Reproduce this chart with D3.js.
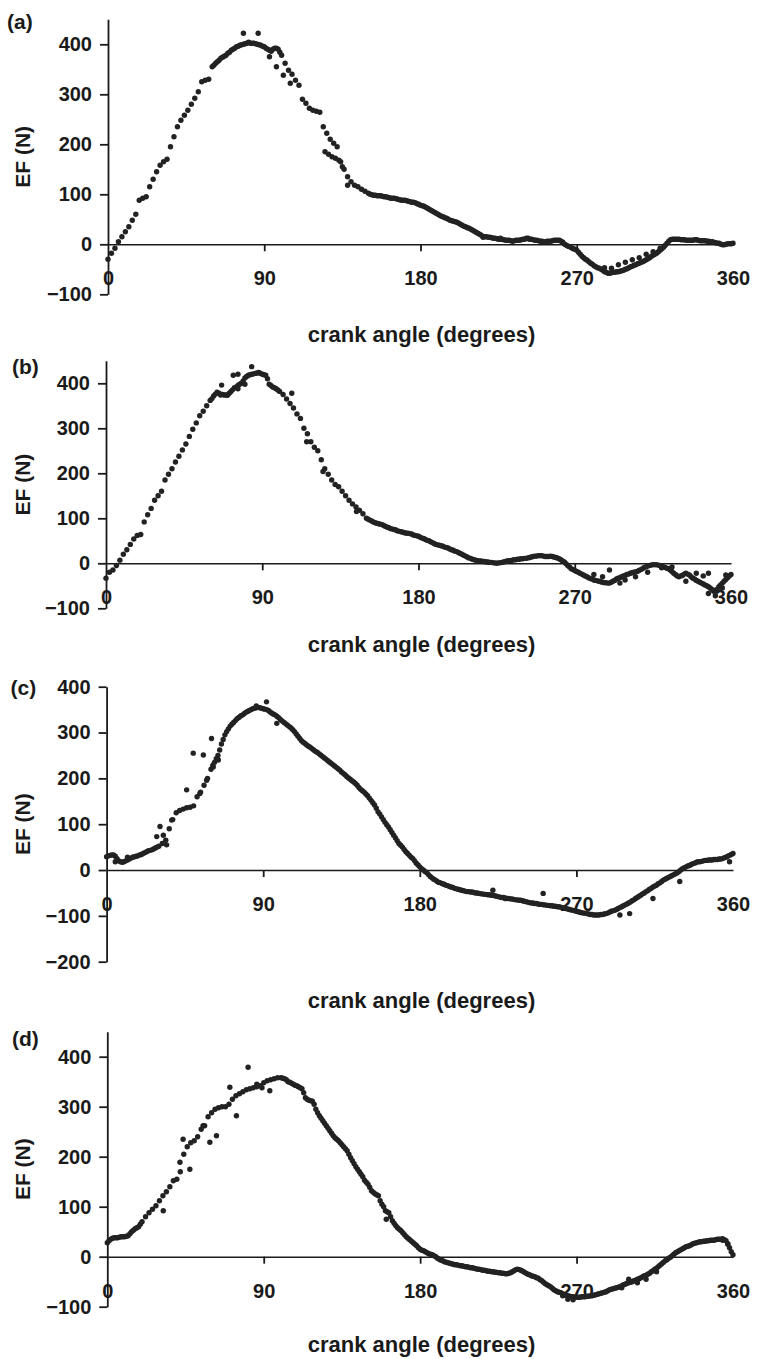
<!DOCTYPE html>
<html>
<head>
<meta charset="utf-8">
<script src="https://cdn.jsdelivr.net/npm/d3@7"></script>
<style>
  html, body { margin: 0; padding: 0; background: #ffffff; }
  svg { display: block; }
  text { font-family: "Liberation Sans", Arial, Helvetica, sans-serif; font-weight: bold; fill: #1a1a1a; }
</style>
</head>
<body>
<svg id="chart" width="758" height="1359"></svg>
<script>
// ---------------- DATA ----------------
// crank angles of the even-degree samples
const angles = [
  0,2,4,6,8,10,12,14,16,18, 20,22,24,26,28,30,32,34,36,38,
  40,42,44,46,48,50,52,54,56,58, 60,62,64,66,68,70,72,74,76,78,
  80,82,84,86,88,90,92,94,96,98, 100,102,104,106,108,110,112,114,116,118,
  120,122,124,126,128,130,132,134,136,138, 140,142,144,146,148,150,152,154,156,158,
  160,162,164,166,168,170,172,174,176,178, 180,182,184,186,188,190,192,194,196,198,
  200,202,204,206,208,210,212,214,216,218, 220,222,224,226,228,230,232,234,236,238,
  240,242,244,246,248,250,252,254,256,258, 260,262,264,266,268,270,272,274,276,278,
  280,282,284,286,288,290,292,294,296,298, 300,302,304,306,308,310,312,314,316,318,
  320,322,324,326,328,330,332,334,336,338, 340,342,344,346,348,350,352,354,356,358,
  360
];
// crank angles of the odd-degree samples
const oddAngles = [
  1,3,5,7,9,11,13,15,17,19, 21,23,25,27,29,31,33,35,37,39,
  41,43,45,47,49,51,53,55,57,59, 61,63,65,67,69,71,73,75,77,79,
  81,83,85,87,89,91,93,95,97,99, 101,103,105,107,109,111,113,115,117,119,
  121,123,125,127,129,131,133,135,137,139, 141,143,145,147,149,151,153,155,157,159,
  161,163,165,167,169,171,173,175,177,179, 181,183,185,187,189,191,193,195,197,199,
  201,203,205,207,209,211,213,215,217,219, 221,223,225,227,229,231,233,235,237,239,
  241,243,245,247,249,251,253,255,257,259, 261,263,265,267,269,271,273,275,277,279,
  281,283,285,287,289,291,293,295,297,299, 301,303,305,307,309,311,313,315,317,319,
  321,323,325,327,329,331,333,335,337,339, 341,343,345,347,349,351,353,355,357,359
];

const efA = [
  -30,-18,-8,5,15,25,35,48,60,88,
  92,95,115,130,145,158,165,170,195,215,
  235,248,258,268,280,292,305,325,328,330,
  355,362,368,374,378,384,390,395,398,400,
  402,402,402,400,398,395,390,386,392,390,
  378,362,348,340,328,318,290,282,272,268,
  266,264,235,222,210,202,195,165,150,135,
  125,118,115,110,106,102,99,98,97,96,
  95,93,92,91,89,88,87,85,84,81,
  78,76,72,68,64,60,56,53,50,47,
  45,42,38,35,32,28,24,20,14,15,
  14,12,11,10,9,8,7,7,8,9,
  10,11,10,8,7,6,5,6,7,8,
  8,4,-2,-5,-9,-12,-20,-27,-32,-38,
  -43,-47,-50,-55,-58,-57,-56,-55,-53,-50,
  -47,-44,-41,-38,-35,-31,-27,-22,-18,-12,
  -6,2,9,10,10,9,9,8,8,9,
  8,7,7,6,5,3,2,-1,0,1,
  2
];
const efAOdd = [
  null,null,null,null,null,null,null,null,null,null,
  null,null,null,null,null,null,null,null,null,null,
  null,null,null,null,null,null,null,null,null,null,
  358,365,372,376,382,388,392,396,399,401,
  404,402,401,399,396,392,388,390,392,384,
  null,null,null,null,null,null,null,null,null,null,
  null,null,null,null,null,null,null,null,null,null,
  null,null,null,null,null,100,98,97,97,95,
  94,92,92,90,88,88,86,84,83,80,
  77,74,70,66,62,58,55,52,48,46,
  44,40,36,33,30,26,22,18,15,14,
  13,12,10,10,8,8,6,8,8,10,
  12,10,9,8,6,5,6,6,8,8,
  6,0,-4,-7,-10,-16,-24,-30,-35,-40,
  -45,-48,-52,-56,-58,-56,-55,-54,-52,-49,
  -45,-42,-39,-36,-33,-29,-24,-20,-15,-9,
  -2,6,10,10,10,9,8,8,8,9,
  7,7,6,5,4,2,0,-1,1,1
];

const efB = [
  -33,-20,-15,-5,7,20,30,42,54,62,
  64,92,108,122,140,150,160,185,198,210,
  225,238,252,265,282,298,312,328,338,350,
  362,372,380,376,374,374,382,390,395,400,
  412,418,420,422,424,420,418,398,392,388,
  382,375,365,355,345,332,322,300,288,270,
  258,250,230,210,198,185,175,170,160,150,
  140,132,125,118,110,100,96,92,89,87,
  84,80,77,75,72,70,68,67,65,62,
  60,56,53,50,46,42,40,38,35,32,
  29,26,22,18,14,11,8,6,5,4,
  3,2,1,1,2,4,6,7,8,9,
  10,11,13,15,16,17,16,15,16,14,
  12,8,3,-5,-12,-16,-20,-24,-28,-32,
  -35,-38,-40,-42,-43,-44,-40,-35,-32,-28,
  -25,-22,-20,-18,-14,-9,-6,-4,-3,-4,
  -6,-9,-12,-18,-25,-30,-27,-22,-26,-33,
  -38,-42,-46,-50,-55,-62,-58,-48,-40,-32,
  -25
];
const efBOdd = [
  null,null,null,null,null,null,null,null,null,null,
  null,null,null,null,null,null,null,null,null,null,
  null,null,null,null,null,null,null,null,null,null,
  366,376,378,375,374,378,386,392,398,405,
  415,419,421,423,422,419,410,395,390,385,
  null,null,null,null,null,null,null,null,null,null,
  null,null,null,null,null,null,null,null,null,null,
  null,null,null,null,null,98,94,90,88,86,
  82,79,76,74,71,69,67,66,63,61,
  58,55,51,48,44,41,39,36,34,30,
  27,24,20,16,12,9,7,5,4,3,
  2,1,0,1,3,5,6,8,9,10,
  11,12,14,16,17,17,15,15,15,13,
  10,5,-1,-8,-14,-18,-22,-26,-30,-34,
  -37,-39,-41,-43,-44,-42,-38,-33,-30,-27,
  -24,-21,-19,-16,-12,-8,-5,-3,-3,-5,
  -8,-11,-15,-22,-28,-28,-24,-24,-30,-35,
  -40,-44,-48,-52,-58,-60,-52,-44,-36,-28
];

const efC = [
  29,32,33,25,18,18,22,26,29,31,
  34,38,42,44,48,52,58,65,90,110,
  125,130,133,136,137,140,160,170,185,200,
  220,235,250,275,295,308,318,326,333,338,
  344,348,352,354,354,352,350,345,340,335,
  328,322,316,310,302,292,282,276,270,265,
  259,254,248,242,236,230,224,218,211,204,
  198,192,185,176,170,162,152,142,127,116,
  104,94,82,70,58,50,40,32,25,15,
  7,0,-6,-14,-20,-25,-28,-31,-34,-37,
  -40,-42,-44,-46,-47,-48,-50,-51,-52,-53,
  -54,-55,-57,-59,-60,-62,-63,-64,-65,-66,
  -68,-70,-72,-73,-74,-75,-76,-77,-78,-79,
  -80,-82,-84,-86,-88,-90,-92,-94,-95,-97,
  -98,-98,-97,-96,-94,-90,-88,-84,-80,-76,
  -72,-67,-62,-57,-52,-47,-42,-37,-33,-28,
  -22,-18,-14,-10,-6,0,5,9,12,15,
  18,19,21,22,22,23,24,25,28,32,
  36
];
const efCOdd = [
  31,33,30,20,17,20,24,28,30,33,
  36,40,43,46,50,null,null,null,null,null,
  null,null,null,null,null,null,null,null,null,null,
  228,243,262,285,302,314,322,330,336,341,
  346,350,353,355,353,351,348,342,338,332,
  325,319,313,306,297,287,279,273,268,262,
  257,251,245,239,233,227,221,214,208,201,
  195,189,180,173,166,157,147,135,122,110,
  99,88,76,64,54,45,36,28,20,11,
  3,-3,-10,-17,-22,-27,-30,-33,-36,-38,
  -41,-43,-45,-47,-48,-49,-50,-52,-53,-54,
  -55,-56,-58,-60,-61,-62,-63,-65,-66,-67,
  -69,-71,-72,-73,-75,-76,-77,-78,-79,-80,
  -81,-83,-85,-87,-89,-91,-93,-94,-96,-97,
  -98,-98,-97,-95,-92,-89,-86,-82,-78,-74,
  -70,-65,-60,-55,-50,-45,-40,-35,-30,-25,
  -20,-16,-12,-8,-3,3,7,10,14,17,
  18,20,21,22,23,23,24,27,30,34
];

const efD = [
  28,35,38,38,40,40,42,50,56,60,
  70,80,88,95,102,112,122,130,140,152,
  155,170,205,220,228,232,240,255,262,280,
  288,295,298,300,300,305,315,322,326,330,
  334,336,338,340,342,348,352,354,356,358,
  358,356,350,347,343,340,336,318,313,311,
  295,282,272,262,252,242,235,228,220,212,
  198,186,175,165,153,145,132,126,122,105,
  92,88,72,62,55,48,40,34,28,22,
  15,12,8,5,2,-3,-7,-10,-12,-14,
  -16,-17,-18,-20,-21,-22,-24,-25,-27,-28,
  -29,-30,-31,-32,-33,-34,-32,-28,-25,-27,
  -31,-35,-38,-40,-43,-48,-54,-58,-63,-68,
  -71,-74,-77,-79,-80,-81,-81,-80,-79,-78,
  -77,-75,-73,-71,-68,-65,-63,-61,-58,-55,
  -52,-50,-47,-44,-40,-37,-33,-28,-23,-17,
  -11,-6,-1,5,10,14,18,21,24,27,
  29,30,31,32,33,34,35,36,32,18,
  4
];
const efDOdd = [
  32,37,38,39,40,41,46,53,58,65,
  null,null,null,null,null,null,null,null,null,null,
  null,null,null,null,null,null,null,null,null,null,
  null,null,null,null,null,null,null,null,null,null,
  null,null,null,null,null,null,null,null,null,null,
  357,354,349,345,342,338,328,315,312,305,
  288,277,267,257,247,238,232,224,216,205,
  192,180,170,160,149,139,129,124,112,100,
  90,80,67,58,52,44,37,31,25,18,
  13,10,6,4,0,-5,-8,-11,-13,-15,
  -16,-18,-19,-20,-22,-23,-25,-26,-27,-29,
  -30,-31,-32,-33,-34,-33,-30,-26,-26,-29,
  -33,-36,-39,-42,-46,-51,-56,-60,-66,-70,
  -72,-76,-78,-80,-81,-81,-80,-80,-79,-78,
  -76,-74,-72,-70,-66,-64,-62,-60,-56,-53,
  -51,-48,-45,-42,-38,-35,-30,-25,-20,-14,
  -8,-3,2,8,12,16,20,22,26,28,
  30,31,32,33,33,35,35,34,26,10
];

// scattered extra samples [crank angle, EF]
const extraA = [[78,422],[86.5,422],[93,375],[97,355],[101,338],[105,322],[125,185],[127,180],[129,175],[131,172],[133,168],[135,155],[138,118],[286,-47],[290,-48],[294,-41],[298,-36],[302,-31],[306,-27],[310,-20],[314,-15],[318,-8],[242,12],[226,12]];
const extraB = [[66,374],[70,374],[76,388],[80,398],[66.6,396],[73.3,418],[76,420],[83.9,437],[107,378],[115.6,270],[125,204],[144.3,115],[290,-15],[299,-37],[296,-44],[305,-30],[347,-67],[351,-72],[347,-22],[357,-26],[344,-28],[340,-22],[312,-20],[320,-10],[326,-8],[334,-40],[286,-30],[281,-25],[355,-55]];
const extraC = [[46,175],[49.8,255],[55.6,251],[53.6,167],[57.5,196],[61.3,225],[64.2,240],[60.3,287],[32.6,76],[30.7,95],[28.8,73],[37.4,109],[34.5,55],[91.9,367],[97.8,320],[295,-98],[300.6,-95],[314,-62],[329.4,-25],[250.9,-51],[229,-62],[222,-44],[358,18],[5,18],[12,28],[86,358]];
const extraD = [[81,379],[70.5,339],[74.3,282],[59,229],[62.8,242],[47.5,175],[41.8,189],[43.6,235],[32.2,92],[93.5,332],[55.1,262],[89,338],[86,345],[160.5,75],[265,-85],[268,-86],[262,-78],[300,-45],[305,-52],[310,-45],[316,-30],[296,-62],[354,33],[357,25]];

const xTicks = [0, 90, 180, 270, 360];
const yTicksStd = [-100, 0, 100, 200, 300, 400];
const yTicksC = [-200, -100, 0, 100, 200, 300, 400];
const panelLabels = ["(a)", "(b)", "(c)", "(d)"];
const xTitle = "crank angle (degrees)";
const yTitle = "EF (N)";

// ---------------- LAYOUT ----------------
const panels = [
  { label: panelLabels[0], vals: efA, odd: efAOdd, extra: extraA, yDomain: [-100, 450], yTicks: yTicksStd,
    x0: 108, x1: 733, yBot: 294.3, yTop: 19.3, lx: 7, ly: 29, titleY: 341.7 },
  { label: panelLabels[1], vals: efB, odd: efBOdd, extra: extraB, yDomain: [-100, 450], yTicks: yTicksStd,
    x0: 106, x1: 731, yBot: 608.3, yTop: 360.8, lx: 12, ly: 373.5, titleY: 652 },
  { label: panelLabels[2], vals: efC, odd: efCOdd, extra: extraC, yDomain: [-200, 400], yTicks: yTicksC,
    x0: 106.6, x1: 733, yBot: 961.7, yTop: 686.7, lx: 10.5, ly: 695, titleY: 1008 },
  { label: panelLabels[3], vals: efD, odd: efDOdd, extra: extraD, yDomain: [-100, 450], yTicks: yTicksStd,
    x0: 107.3, x1: 733, yBot: 1306.7, yTop: 1031.7, lx: 12, ly: 1046, titleY: 1352 }
];

const ink = "#1a1a1a";
const svg = d3.select("#chart");

panels.forEach(p => {
  const g = svg.append("g");
  const x = d3.scaleLinear().domain([0, 360]).range([p.x0, p.x1]);
  const y = d3.scaleLinear().domain(p.yDomain).range([p.yBot, p.yTop]);

  // Y axis
  const yAx = g.append("g")
    .attr("transform", `translate(${p.x0},0)`)
    .call(d3.axisLeft(y).tickValues(p.yTicks).tickSize(8).tickSizeOuter(0).tickPadding(8).tickFormat(d3.format("d")));
  yAx.select(".domain").attr("stroke", ink).attr("stroke-width", 1.8);
  yAx.selectAll(".tick line").attr("stroke", ink).attr("stroke-width", 1.8);
  yAx.selectAll(".tick text").attr("font-size", 20).attr("fill", ink)
    .style("font-family", '"Liberation Sans", Arial, sans-serif').style("font-weight", "bold");

  // X axis at zero line
  const xAx = g.append("g")
    .attr("transform", `translate(0,${y(0)})`)
    .call(d3.axisBottom(x).tickValues(xTicks).tickSize(7).tickSizeOuter(0).tickPadding(20).tickFormat(d3.format("d")));
  xAx.select(".domain").attr("stroke", ink).attr("stroke-width", 1.6);
  xAx.selectAll(".tick line").attr("stroke", ink).attr("stroke-width", 1.8)
    .attr("display", d => (d === 0 || d === 360) ? "none" : null);
  xAx.selectAll(".tick text").attr("font-size", 20).attr("fill", ink)
    .style("font-family", '"Liberation Sans", Arial, sans-serif').style("font-weight", "bold");

  // points
  const pts = p.vals.map((v, i) => [angles[i], v])
    .concat(p.odd.map((v, i) => [oddAngles[i], v]).filter(d => d[1] !== null))
    .concat(p.extra);
  g.append("g").selectAll("circle").data(pts).join("circle")
    .attr("cx", d => x(d[0]))
    .attr("cy", d => y(d[1]))
    .attr("r", 2.7)
    .attr("fill", "#222");

  // panel label
  g.append("text").attr("x", p.lx).attr("y", p.ly).attr("font-size", 21).text(p.label);

  // y title
  const yMid = (p.yTop + p.yBot) / 2;
  g.append("text")
    .attr("transform", `translate(30,${yMid}) rotate(-90)`)
    .attr("text-anchor", "middle")
    .attr("font-size", 21)
    .text(yTitle);

  // x title
  g.append("text")
    .attr("x", 421.5).attr("y", p.titleY)
    .attr("text-anchor", "middle")
    .attr("font-size", 22)
    .text(xTitle);
});
</script>
</body>
</html>
